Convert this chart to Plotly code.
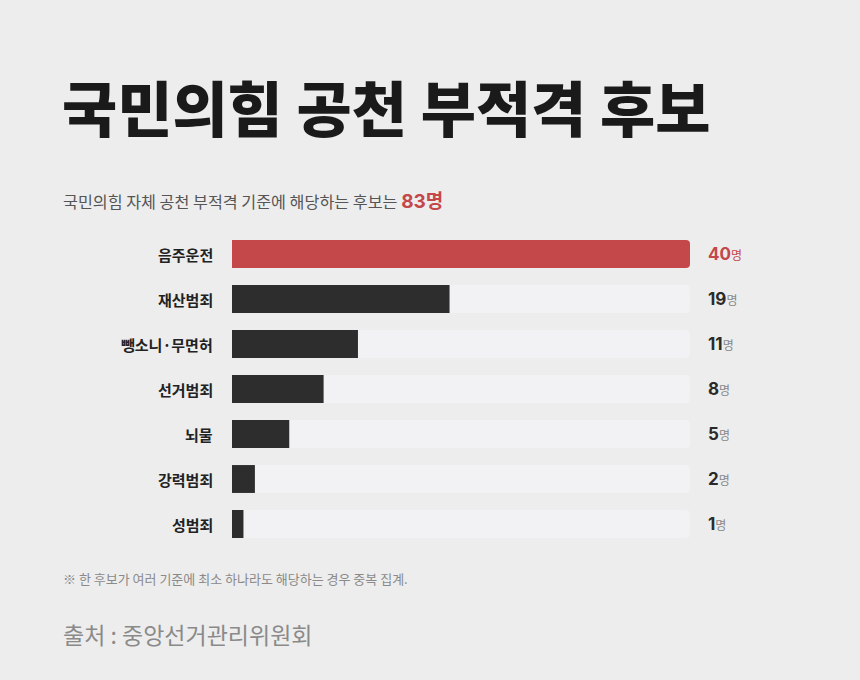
import plotly.graph_objects as go

# data
categories = ["음주운전", "재산범죄", "뺑소니·무면허", "선거범죄", "뇌물", "강력범죄", "성범죄"]
counts = [40, 19, 11, 8, 5, 2, 1]
total = 83

FONT = "Noto Sans CJK KR"
NUM_FONT = "Inter, Noto Sans CJK KR"
BG = "#ededed"
RED = "#c4474a"
DARK = "#2d2d2d"
TRACK = "#f2f2f5"
W, H = 860, 680

max_val = max(counts)
bar_colors = [RED if v == max_val else DARK for v in counts]

fig = go.Figure()

# light background track behind each bar
fig.add_trace(go.Bar(
    y=categories, x=[max_val] * len(categories), orientation="h",
    marker=dict(color=TRACK, line=dict(width=0)),
    width=0.62, hoverinfo="skip", showlegend=False,
))
fig.add_trace(go.Bar(
    y=categories, x=counts, orientation="h",
    marker=dict(color=bar_colors, line=dict(width=0)),
    width=0.62, showlegend=False,
))

# value labels on the right
for cat, v in zip(categories, counts):
    num_color = RED if v == max_val else "#2a2a2a"
    unit_color = RED if v == max_val else "#888888"
    fig.add_annotation(
        x=1.0, xref="x domain", xshift=16, y=cat, yref="y",
        text=f"<b><span style='color:{num_color};font-family:Inter;font-size:17px'>{v}</span></b>"
             f"<span style='color:{unit_color};font-size:12px'>명</span>",
        showarrow=False, xanchor="left", yanchor="middle",
        font=dict(family=FONT, size=16),
    )

# category labels on the left
for cat in categories:
    fig.add_annotation(
        x=0, xref="x domain", xshift=-17, y=cat, yref="y",
        text=f"<b>{cat}</b>", showarrow=False, xanchor="right", yanchor="middle",
        font=dict(family=FONT, size=15, color="#222222"),
    )

# title / subtitle / notes, placed in pixels then turned into paper coords
def text_at(px, py, text, font):
    fig.add_annotation(
        x=px / W, y=1 - py / H, xref="paper", yref="paper", showarrow=False,
        text=text, font=font, xanchor="left", yanchor="middle",
    )

text_at(60, 105, "국민의힘 공천 부적격 후보",
        dict(family=FONT, size=60, color="#1a1a1a", weight=900))
text_at(61, 199,
        f"<span style='color:#555555'>국민의힘 자체 공천 부적격 기준에 해당하는 후보는 </span>"
        f"<b><span style='color:{RED};font-size:19px'><span style='font-family:Inter'>{total}</span>명</span></b>",
        dict(family=FONT, size=16.2))
text_at(61, 578, "※ 한 후보가 여러 기준에 최소 하나라도 해당하는 경우 중복 집계.",
        dict(family=FONT, size=13, color="#8a8a8a"))
text_at(61, 634, "출처 : 중앙선거관리위원회",
        dict(family=FONT, size=23, color="#8a8a8a"))

fig.update_layout(
    width=W, height=H,
    paper_bgcolor=BG, plot_bgcolor=BG,
    margin=dict(l=0, r=0, t=0, b=0),
    barmode="overlay", barcornerradius=4,
    font=dict(family=FONT),
    xaxis=dict(domain=[232 / W, 690 / W], range=[0, max_val], visible=False, fixedrange=True),
    yaxis=dict(domain=[1 - 546.5 / H, 1 - 231.5 / H], autorange="reversed",
               showticklabels=False, showgrid=False, zeroline=False, fixedrange=True),
    showlegend=False,
)

fig.write_html("out.html", config={"displayModeBar": False},
               post_script="document.body.style.margin='0';")
